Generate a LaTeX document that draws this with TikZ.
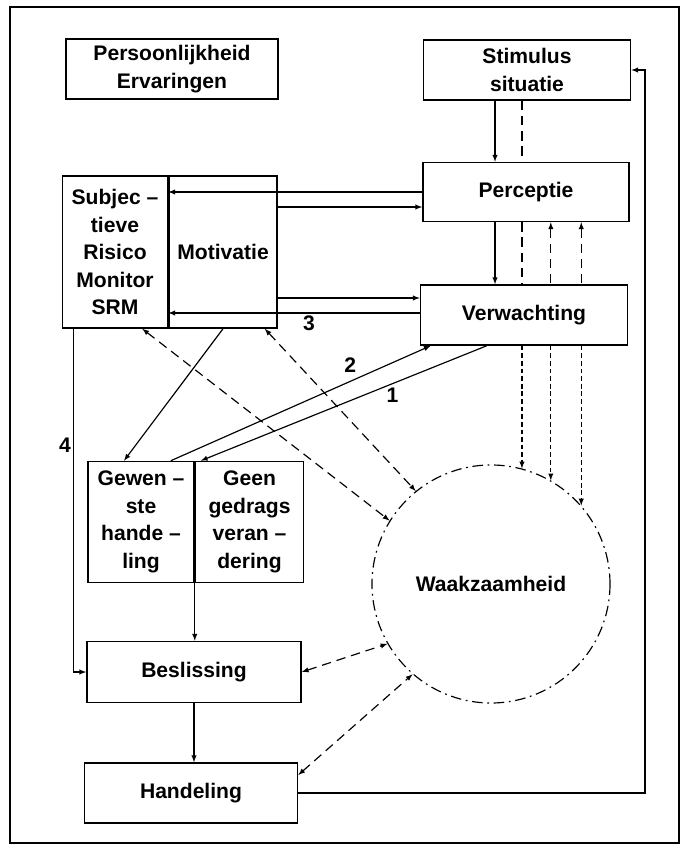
\documentclass[tikz,border=0pt]{standalone}
\usepackage{fontspec}
\setmainfont{Liberation Sans}
\usetikzlibrary{positioning}

\begin{document}
\begin{tikzpicture}[
  x=0.03cm, y=-0.03cm,
  font=\fontsize{18}{23.5}\selectfont\bfseries,
  >=latex,
  box/.style={draw,line width=1.3pt,inner sep=0pt,align=center},
  link/.style={line width=1pt},
  dlink/.style={line width=1pt,dash pattern=on 8pt off 5pt},
  vlink/.style={line width=1pt,dash pattern=on 4pt off 2.5pt},
  num/.style={inner sep=2pt}
]
  \useasboundingbox (0,0) rectangle (682,847);
  \draw[line width=1.4pt] (10,7) rectangle (679,843);

  % boxes
  \node[box,minimum width=6.36cm,minimum height=1.8cm] (pers) at (172,69) {Persoonlijkheid\\Ervaringen};
  \node[box,minimum width=6.21cm,minimum height=1.8cm] (stim) at (527,70) {Stimulus\\situatie};
  \node[box,minimum width=6.18cm,minimum height=1.77cm] (perc) at (526,192) {Perceptie};
  \node[box,minimum width=6.21cm,minimum height=1.8cm] (verw) at (524,315) {Verwachting};
  \node[box,minimum width=3.15cm,minimum height=4.56cm] (srm) at (115,252) {Subjec –\\tieve\\Risico\\Monitor\\SRM};
  \node[box,minimum width=3.24cm,minimum height=4.56cm,right=0pt of srm] (motiv) {Motivatie};
  \node[box,minimum width=3.18cm,minimum height=3.63cm] (gew) at (141,522) {Gewen –\\ste\\hande –\\ling};
  \node[box,minimum width=3.24cm,minimum height=3.63cm,right=0pt of gew] (geen) {Geen\\gedrags\\veran –\\dering};
  \node[box,minimum width=6.42cm,minimum height=1.83cm] (besl) at (194,672) {Beslissing};
  \node[box,minimum width=6.39cm,minimum height=1.8cm] (hand) at (191,793) {Handeling};
  \node[draw,circle,inner sep=0pt,minimum size=7.14cm,line width=1pt,
        dash pattern=on 9pt off 4pt on 1.5pt off 4pt] (waak) at (491,584) {Waakzaamheid};
  \coordinate (spine) at (495,0);
  \coordinate (fb) at (645,0);

  % stimulus, perceptie, verwachting
  \draw[link,->] (stim.south -| spine) -- (perc.north -| spine);
  \draw[dlink] (stim.south -| waak.75) -- (perc.north -| waak.75);
  \draw[link,->] (perc.south -| spine) -- (verw.north -| spine);
  \draw[dlink] (waak.75 |- perc.south) -- (waak.75 |- verw.north);
  \draw[dlink,<-] (waak.60 |- perc.south) -- (waak.60 |- verw.north);
  \draw[dlink,<-] (waak.41 |- perc.south) -- (waak.41 |- verw.north);

  % verwachting to waakzaamheid
  \draw[vlink,->] (waak.75 |- verw.south) -- (waak.75);
  \draw[vlink,->] (waak.60 |- verw.south) -- (waak.60);
  \draw[vlink,->] (waak.41 |- verw.south) -- (waak.41);

  % SRM and motivatie
  \draw[link,->] (perc.west) -- (perc.west -| srm.east);
  \draw[link,->] (motiv.east |- 0,207) -- (perc.west |- 0,207);
  \draw[link,->] (motiv.east |- 0,298) -- (verw.west |- 0,298);
  \draw[link,->] (verw.west |- 0,313) -- node[num,below,pos=0.44]{3} (srm.east |- 0,313);

  \draw[dlink,<->] ([xshift=-0.78cm]srm.south east) -- (waak.148);
  \draw[dlink,<->] ([xshift=-0.39cm]motiv.south east) -- (waak.129);
  \draw[link,->] (motiv.south) -- ([xshift=-0.51cm]gew.north);
  \draw[link,<-] ([xshift=0.33cm]verw.south west) -- node[num,above=5pt,pos=0.31]{2} ([xshift=-0.72cm]gew.north east);
  \draw[link,->] ([xshift=2.01cm]verw.south west) -- node[num,below=1pt,pos=0.33]{1} ([xshift=0.18cm]geen.north west);
  \draw[link,->] ([xshift=0.36cm]srm.south west) |- node[num,left,pos=0.17]{4} (besl.west);

  % beslissing and handeling
  \draw[link,->] (gew.south east) -- (gew.south east |- besl.north);
  \draw[link,->] (besl.south) -- (besl.south |- hand.north);
  \draw[dlink,<->] (besl.east) -- (waak.210);
  \draw[dlink,<->] ([yshift=0.54cm]hand.east) -- (waak.229);
  \draw[link,->] (hand.east) -- (hand.east -| fb) -- (stim.east -| fb) -- (stim.east);
\end{tikzpicture}
\end{document}
